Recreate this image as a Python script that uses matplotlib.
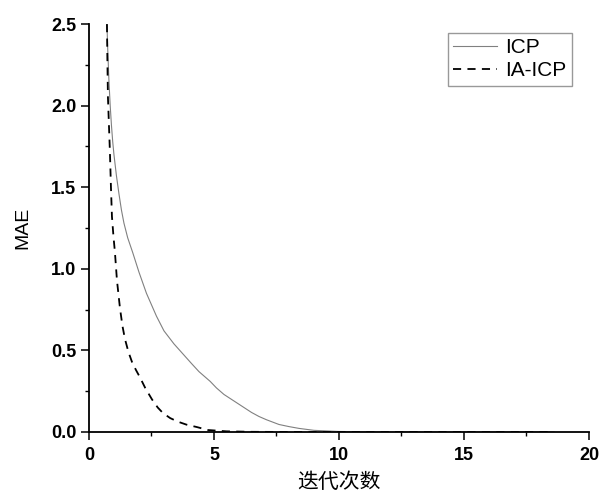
import matplotlib
matplotlib.use('Agg')
import matplotlib.pyplot as plt
from matplotlib.ticker import MultipleLocator

plt.rcParams['font.family'] = ['Liberation Sans', 'DejaVu Sans']

# ICP curve
icp_x = [0.72, 0.75, 0.8, 0.85, 0.9, 0.95, 1.0, 1.1, 1.2, 1.3, 1.4, 1.55, 1.75,
         2.0, 2.3, 2.7, 3.0, 3.4, 3.75, 4.1, 4.4, 4.85, 5.1, 5.4, 5.7, 6.0,
         6.25, 6.5, 6.8, 7.1, 7.6, 8.0, 8.4, 9.0, 10.0, 12.0, 18.6]
icp_y = [2.5, 2.35, 2.15, 2.0, 1.88, 1.78, 1.7, 1.57, 1.46, 1.36, 1.28, 1.19, 1.1,
         0.98, 0.85, 0.71, 0.62, 0.54, 0.48, 0.42, 0.37, 0.31, 0.27, 0.23, 0.2, 0.17,
         0.145, 0.12, 0.095, 0.075, 0.046, 0.033, 0.022, 0.01, 0.003, 0.0, 0.0]

# IA-ICP curve
ia_x = [0.72, 0.74, 0.76, 0.8, 0.84, 0.88, 0.92, 0.98, 1.04, 1.12, 1.24, 1.34,
        1.44, 1.58, 1.72, 1.88, 2.04, 2.25, 2.52, 2.75, 2.96, 3.25, 3.56, 3.9,
        4.32, 4.76, 5.5, 6.5, 8.0, 18.6]
ia_y = [2.5, 2.25, 2.05, 1.88, 1.71, 1.5, 1.32, 1.2, 1.1, 0.93, 0.76, 0.65,
        0.57, 0.49, 0.43, 0.38, 0.335, 0.27, 0.2, 0.15, 0.116, 0.085, 0.063, 0.045,
        0.03, 0.012, 0.004, 0.001, 0.0, 0.0]

fig = plt.figure(figsize=(6.01, 4.92), dpi=100)
ax = fig.add_axes([0.148, 0.122, 0.832, 0.829])

ax.plot(icp_x, icp_y, color='#808080', lw=0.8, label='ICP')
ax.plot(ia_x, ia_y, color='black', lw=1.3, ls=(0, (4.5, 3.5)), label='IA-ICP')

ax.set_xlim(0, 20)
ax.set_ylim(0, 2.5)
ax.xaxis.set_major_locator(MultipleLocator(5))
ax.xaxis.set_minor_locator(MultipleLocator(2.5))
ax.yaxis.set_major_locator(MultipleLocator(0.5))
ax.yaxis.set_minor_locator(MultipleLocator(0.25))
ax.yaxis.set_major_formatter(plt.FuncFormatter(lambda v, p: f'{v:.1f}'))

for side in ['top', 'right']:
    ax.spines[side].set_visible(False)
for side in ['left', 'bottom']:
    ax.spines[side].set_linewidth(1.3)

ax.tick_params(which='major', direction='out', length=5.5, width=1.1, labelsize=13)
ax.tick_params(axis='x', which='major', pad=5)
ax.tick_params(which='minor', direction='out', length=3, width=1.0)
for lab in ax.get_xticklabels() + ax.get_yticklabels():
    lab.set_fontweight('bold')

ax.set_ylabel('MAE', fontsize=14, labelpad=14)
ax.set_xlabel('迭代次数', fontsize=15, family=['Noto Sans CJK SC', 'DejaVu Sans'], labelpad=5)

leg = ax.legend(loc='upper right', bbox_to_anchor=(0.966, 0.978), borderaxespad=0,
                fontsize=15, frameon=True, fancybox=False, handlelength=2.1,
                handletextpad=0.4, borderpad=0.25, labelspacing=0.2)
leg.get_frame().set_edgecolor('#808080')
leg.get_frame().set_linewidth(1.0)

fig.savefig('out.png', dpi=100)
